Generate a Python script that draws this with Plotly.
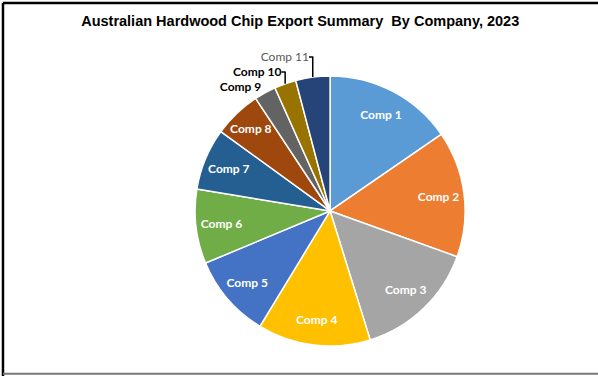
import plotly.graph_objects as go

companies = ["Comp 1", "Comp 2", "Comp 3", "Comp 4", "Comp 5", "Comp 6",
             "Comp 7", "Comp 8", "Comp 9", "Comp 10", "Comp 11"]
shares = [15.4, 15.1, 14.7, 13.5, 10.0, 8.9, 7.4, 5.7, 2.6, 2.6, 4.1]
colors = ["#5B9BD5", "#ED7D31", "#A5A5A5", "#FFC000", "#4472C4", "#70AD47",
          "#255E91", "#9E480E", "#636363", "#997300", "#264478"]
n_inside = 8
outside_text = [""] * n_inside + companies[n_inside:]
inside_text = companies[:n_inside] + [""] * (len(companies) - n_inside)
outside_colors = ["black"] * (len(companies) - 1) + ["#595959"]
outside_weights = ["bold"] * (len(companies) - 1) + ["normal"]

domain = dict(x=[0.326, 0.778], y=[0.0798, 0.798])

fig = go.Figure()
# Main pie with the outside labels for small slices
fig.add_trace(go.Pie(
    labels=companies,
    values=shares,
    text=outside_text,
    textinfo="text",
    sort=False,
    direction="clockwise",
    rotation=0,
    marker=dict(colors=colors, line=dict(color="white", width=1.5)),
    textposition=["inside"] * n_inside + ["outside"] * (len(companies) - n_inside),
    textfont=dict(family="Lato", size=12, color=outside_colors, weight=outside_weights),
    showlegend=False,
    domain=domain,
))
# Transparent ring carrying the inside labels further out from the centre
fig.add_trace(go.Pie(
    labels=companies,
    values=shares,
    text=inside_text,
    textinfo="text",
    sort=False,
    direction="clockwise",
    rotation=0,
    hole=0.62,
    marker=dict(colors=["rgba(0,0,0,0)"] * len(companies), line=dict(width=0)),
    textposition="inside",
    insidetextorientation="horizontal",
    textfont=dict(family="Lato", size=12, color="white", weight="bold"),
    hoverinfo="skip",
    showlegend=False,
    domain=domain,
))

fig.update_layout(
    width=598, height=376,
    margin=dict(l=0, r=0, t=0, b=0),
    paper_bgcolor="white",
    uniformtext=dict(minsize=12, mode="show"),
    title=dict(text="<b>Australian Hardwood Chip Export Summary  By Company, 2023</b>",
               x=0.502, xanchor="center", y=0.945, yanchor="middle",
               font=dict(family="Liberation Sans", size=14.5, color="black")),
    shapes=[
        dict(type="line", xref="paper", yref="paper", x0=0.005, x1=1.0, y0=0.992, y1=0.992,
             line=dict(color="black", width=2.5)),
        dict(type="line", xref="paper", yref="paper", x0=0.005, x1=0.005, y0=0.0, y1=0.992,
             line=dict(color="black", width=2.5)),
        dict(type="line", xref="paper", yref="paper", x0=0.005, x1=1.0, y0=0.006, y1=0.006,
             line=dict(color="#777777", width=2)),
    ],
)

fig.write_html("out.html")
